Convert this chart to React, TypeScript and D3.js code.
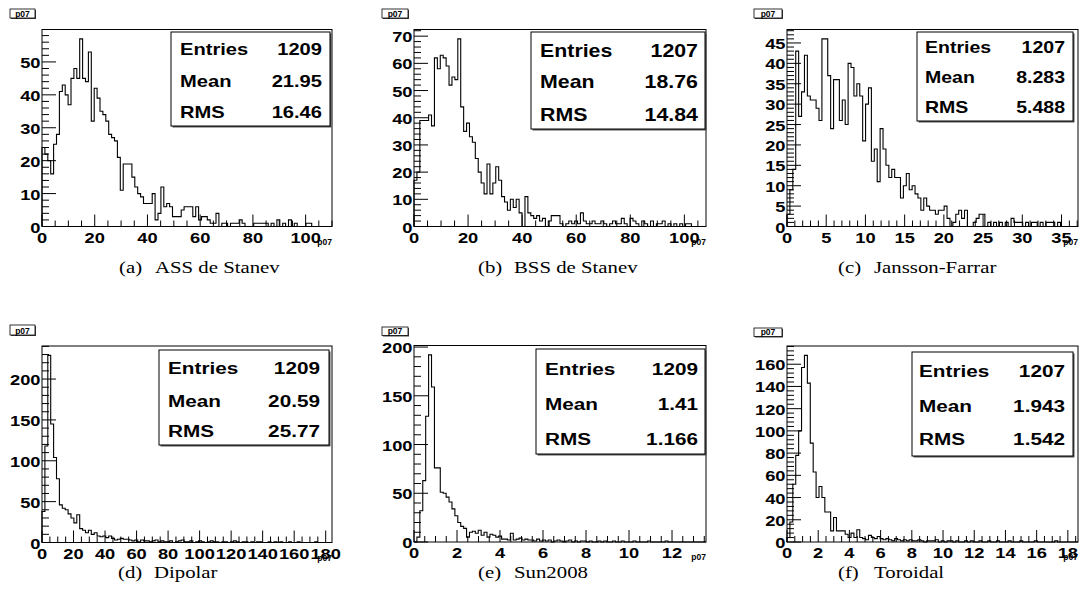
import React from "react";
import * as d3 from "d3";

const SANS = "'Liberation Sans', Arial, Helvetica, sans-serif";
const SERIF = "'Liberation Serif', 'Times New Roman', serif";
const STRETCH = 1.22;

// Bin contents of the six p07 histograms (100 bins each)
const assStanev = [
  24, 22, 20, 16, 25, 28, 41, 43, 40, 37,
  45, 48, 45, 57, 45, 44, 53, 32, 42, 39,
  35, 34, 32, 28, 27, 26, 21, 11, 19, 19,
  19, 15, 12, 10, 9, 7, 7, 7, 10, 2,
  4, 12, 6, 7, 6, 3, 3, 3, 5, 6,
  6, 6, 3, 6, 2, 3, 3, 2, 1, 1,
  4, 0, 1, 1, 0, 1, 1, 1, 2, 1,
  0, 0, 0, 1, 1, 1, 1, 1, 0, 1,
  0, 2, 0, 1, 0, 2, 0, 1, 0, 0,
  0, 1, 1, 0, 0, 0, 0, 0, 0, 0,
];
const bssStanev = [
  17, 20, 39, 39, 39, 41, 37, 62, 58, 63,
  62, 59, 52, 55, 54, 69, 44, 35, 38, 33,
  31, 25, 20, 16, 12, 23, 12, 16, 22, 17,
  11, 9, 6, 10, 7, 10, 5, 0, 11, 5,
  4, 3, 4, 2, 3, 0, 2, 4, 4, 4,
  1, 0, 1, 2, 1, 2, 1, 5, 2, 1,
  1, 2, 1, 1, 2, 1, 0, 1, 2, 1,
  1, 3, 1, 0, 3, 2, 1, 0, 2, 1,
  0, 2, 0, 1, 1, 2, 0, 1, 0, 1,
  0, 1, 0, 1, 1, 0, 0, 0, 0, 0,
];
const janssonFarrar = [
  3, 9, 14, 43, 27, 33, 42, 32, 31, 31,
  29, 26, 46, 46, 37, 24, 36, 36, 26, 31,
  25, 40, 39, 32, 35, 32, 21, 30, 34, 16,
  19, 11, 24, 19, 15, 12, 14, 12, 12, 7,
  10, 13, 9, 10, 8, 7, 4, 7, 5, 4,
  4, 3, 4, 4, 5, 2, 0, 1, 3, 4,
  2, 4, 0, 0, 1, 2, 3, 3, 0, 1,
  0, 1, 0, 1, 0, 1, 0, 2, 1, 1,
  1, 0, 1, 0, 1, 1, 0, 1, 0, 1,
  1, 1, 0, 1, 0, 0, 0, 0, 0, 0,
];
const dipolar = [
  38, 118, 229, 145, 104, 78, 46, 42, 40, 35,
  30, 24, 34, 17, 15, 12, 15, 10, 12, 8,
  7, 8, 6, 8, 5, 3, 4, 5, 4, 4,
  3, 2, 3, 1, 3, 2, 2, 1, 2, 3,
  1, 2, 1, 1, 2, 0, 1, 2, 3, 1,
  1, 2, 0, 1, 2, 1, 0, 1, 2, 1,
  1, 0, 1, 1, 0, 1, 2, 1, 0, 1,
  1, 0, 1, 0, 1, 1, 0, 0, 1, 0,
  1, 0, 1, 0, 0, 1, 0, 0, 1, 0,
  0, 0, 0, 0, 1, 0, 0, 0, 0, 0,
];
const sun2008 = [
  0, 5, 32, 63, 129, 192, 159, 76, 76, 51,
  50, 46, 41, 34, 27, 20, 16, 14, 5, 10,
  11, 9, 12, 7, 10, 5, 8, 7, 5, 6,
  3, 3, 2, 9, 2, 3, 4, 2, 3, 2,
  2, 1, 3, 1, 2, 1, 2, 0, 1, 2,
  1, 0, 1, 2, 0, 1, 0, 1, 1, 0,
  1, 0, 0, 1, 0, 1, 0, 0, 1, 0,
  0, 1, 0, 0, 0, 1, 0, 0, 0, 0,
  1, 0, 0, 0, 0, 0, 1, 0, 0, 0,
  0, 0, 0, 0, 0, 0, 0, 0, 0, 0,
];
const toroidal = [
  4, 18, 52, 78, 100, 157, 168, 143, 89, 63,
  40, 50, 40, 27, 27, 10, 22, 10, 10, 10,
  7, 4, 8, 4, 11, 4, 3, 2, 6, 4,
  3, 5, 3, 2, 3, 2, 1, 3, 2, 1,
  2, 1, 2, 1, 1, 2, 1, 0, 1, 1,
  1, 2, 0, 1, 0, 1, 1, 0, 1, 0,
  0, 1, 0, 1, 0, 0, 1, 0, 0, 1,
  0, 0, 1, 0, 0, 0, 1, 0, 0, 0,
  1, 0, 0, 0, 0, 1, 0, 0, 0, 0,
  0, 0, 1, 0, 0, 0, 0, 0, 0, 0,
];

const histograms = [assStanev, bssStanev, janssonFarrar, dipolar, sun2008, toroidal];

// Statistics box contents
const entries = ["1209", "1207", "1207", "1209", "1209", "1207"];
const means = ["21.95", "18.76", "8.283", "20.59", "1.41", "1.943"];
const rmsValues = ["16.46", "14.84", "5.488", "25.77", "1.166", "1.542"];

// Sub-figure captions
const captionTags = ["(a)", "(b)", "(c)", "(d)", "(e)", "(f)"];
const captionNames = ["ASS de Stanev", "BSS de Stanev", "Jansson-Farrar", "Dipolar", "Sun2008", "Toroidal"];

// Axis ranges and tick steps
const xUpper = [110, 108, 37.1, 184, 13.58, 18.65];
const xMajorStep = [20, 20, 5, 20, 2, 2];
const xMinorStep = [5, 5, 1, 5, 0.5, 0.5];
const yMajorStep = [10, 10, 5, 50, 50, 20];
const yMinorStep = [2, 2, 1, 10, 10, 4];

type Layout = {
  frame: { l: number; r: number; t: number; b: number };
  stats: { x: number; y: number; w: number; h: number; rows: number[]; tl: number; tr: number; fs: number };
  title: { x: number; y: number; w: number; h: number };
  caption: { x: number; y: number };
};

const layouts: Layout[] = [
  {
    frame: { l: 42, r: 332, t: 29.5, b: 226.5 },
    stats: { x: 171, y: 32, w: 159, h: 94, rows: [55, 87, 118], tl: 180, tr: 322, fs: 16.5 },
    title: { x: 10, y: 9, w: 25, h: 9 },
    caption: { x: 119, y: 273 },
  },
  {
    frame: { l: 414, r: 706, t: 29.5, b: 226.5 },
    stats: { x: 531, y: 32, w: 174, h: 97, rows: [57, 88, 121], tl: 540, tr: 698, fs: 17.5 },
    title: { x: 382, y: 9, w: 26, h: 9 },
    caption: { x: 478, y: 273 },
  },
  {
    frame: { l: 787, r: 1078, t: 29.5, b: 226.5 },
    stats: { x: 917, y: 32, w: 156, h: 89, rows: [53, 83, 113], tl: 925, tr: 1065, fs: 16 },
    title: { x: 754, y: 9, w: 28, h: 9 },
    caption: { x: 838, y: 273 },
  },
  {
    frame: { l: 42, r: 332, t: 346, b: 542.5 },
    stats: { x: 159, y: 350, w: 170, h: 95, rows: [374, 407, 437], tl: 168, tr: 320, fs: 17 },
    title: { x: 10, y: 325, w: 25, h: 10 },
    caption: { x: 118, y: 578 },
  },
  {
    frame: { l: 414, r: 706, t: 345.5, b: 542 },
    stats: { x: 536, y: 349, w: 169, h: 105, rows: [375, 410, 445], tl: 545, tr: 698, fs: 17 },
    title: { x: 382, y: 327, w: 26, h: 8.5 },
    caption: { x: 478, y: 578 },
  },
  {
    frame: { l: 787, r: 1078, t: 346, b: 542 },
    stats: { x: 912, y: 352, w: 161, h: 104, rows: [377, 412, 445], tl: 919, tr: 1065, fs: 17 },
    title: { x: 754, y: 328, w: 28, h: 8.5 },
    caption: { x: 838, y: 578 },
  },
];

function Stretched(props: {
  x: number;
  y: number;
  size: number;
  anchor?: "start" | "middle" | "end";
  family?: string;
  weight?: string | number;
  sx?: number;
  children: React.ReactNode;
}) {
  const { x, y, size, anchor = "start", family = SANS, weight = "bold", sx = STRETCH, children } = props;
  return (
    <text
      transform={`translate(${x},${y}) scale(${sx},1)`}
      textAnchor={anchor}
      fontSize={size}
      fontFamily={family}
      fontWeight={weight}
      fill="#000"
    >
      {children}
    </text>
  );
}

function steps(max: number, step: number): number[] {
  const n = Math.floor(max / step + 1e-9);
  return d3.range(n + 1).map((k) => k * step);
}

function isMajor(v: number, major: number): boolean {
  const q = v / major;
  return Math.abs(q - Math.round(q)) < 1e-6;
}

function fmt(v: number): string {
  return String(Math.round(v * 1000) / 1000);
}

function Panel({ i }: { i: number }) {
  const data = histograms[i];
  const L = layouts[i];
  const { l, r, t, b } = L.frame;
  const xMax = xUpper[i];
  const yMax = (d3.max(data) ?? 1) * 1.05;
  const x = d3.scaleLinear().domain([0, xMax]).range([l, r]);
  const y = d3.scaleLinear().domain([0, yMax]).range([b, t]);
  const bw = xMax / data.length;

  const pts: [number, number][] = [[x(0), y(0)]];
  data.forEach((v, k) => {
    pts.push([x(k * bw), y(v)]);
    pts.push([x((k + 1) * bw), y(v)]);
  });
  pts.push([x(xMax), y(0)]);
  const path = d3.line()(pts) ?? "";

  const yTicks = steps(yMax, yMinorStep[i]);
  const xTicks = steps(xMax, xMinorStep[i]);
  const yLabels = steps(yMax, yMajorStep[i]);
  const xLabels = steps(xMax, xMajorStep[i]);

  const S = L.stats;
  const T = L.title;

  return (
    <g>
      {/* histogram title box */}
      <rect x={T.x + 1} y={T.y + 1} width={T.w} height={T.h} fill="#444" />
      <rect x={T.x} y={T.y} width={T.w} height={T.h} fill="#fff" stroke="#000" strokeWidth={0.8} />
      <text
        x={T.x + T.w / 2}
        y={T.y + T.h - 1.5}
        textAnchor="middle"
        fontSize={8.5}
        fontFamily={SANS}
        fontWeight="bold"
      >
        p07
      </text>

      {/* frame */}
      <rect x={l} y={t} width={r - l} height={b - t} fill="none" stroke="#000" strokeWidth={1} />

      {/* y ticks */}
      {yTicks.map((v) => (
        <line
          key={"yt" + v}
          x1={l}
          x2={l + (isMajor(v, yMajorStep[i]) ? 14 : 7)}
          y1={y(v)}
          y2={y(v)}
          stroke="#000"
          strokeWidth={1}
        />
      ))}
      {/* x ticks */}
      {xTicks.map((v) => (
        <line
          key={"xt" + v}
          x1={x(v)}
          x2={x(v)}
          y1={b}
          y2={b - (isMajor(v, xMajorStep[i]) ? 12 : 6)}
          stroke="#000"
          strokeWidth={1}
        />
      ))}

      {/* histogram outline */}
      <path d={path} fill="none" stroke="#000" strokeWidth={1.1} />

      {/* y labels */}
      {yLabels.map((v) => (
        <Stretched key={"yl" + v} x={l - 1.5} y={y(v) + 6} size={15} anchor="end">
          {fmt(v)}
        </Stretched>
      ))}
      {/* x labels */}
      {xLabels.map((v) => (
        <Stretched key={"xl" + v} x={x(v)} y={b + 16} size={15} anchor="middle">
          {fmt(v)}
        </Stretched>
      ))}
      {/* x axis title */}
      <text x={r} y={b + 18} textAnchor="end" fontSize={8.5} fontFamily={SANS} fontWeight="bold">
        p07
      </text>

      {/* statistics box */}
      <rect x={S.x + 1.5} y={S.y + 1.5} width={S.w} height={S.h} fill="#555" />
      <rect x={S.x} y={S.y} width={S.w} height={S.h} fill="#fff" stroke="#000" strokeWidth={1} />
      {[
        ["Entries", entries[i]],
        ["Mean", means[i]],
        ["RMS", rmsValues[i]],
      ].map(([k, v], j) => (
        <g key={k}>
          <Stretched x={S.tl} y={S.rows[j]} size={S.fs}>
            {k}
          </Stretched>
          <Stretched x={S.tr} y={S.rows[j]} size={S.fs} anchor="end">
            {v}
          </Stretched>
        </g>
      ))}

      {/* caption */}
      <Stretched x={L.caption.x} y={L.caption.y} size={16} family={SERIF} weight="normal" sx={1.3}>
        {captionTags[i]}
      </Stretched>
      <Stretched x={L.caption.x + 36} y={L.caption.y} size={16} family={SERIF} weight="normal" sx={1.3}>
        {captionNames[i]}
      </Stretched>
    </g>
  );
}

export default function App() {
  return (
    <svg
      width={1079}
      height={614}
      viewBox="0 0 1079 614"
      style={{ position: "absolute", left: 0, top: 0, background: "#fff" }}
    >
      <rect width={1079} height={614} fill="#fff" />
      {histograms.map((_, i) => (
        <Panel key={i} i={i} />
      ))}
    </svg>
  );
}
